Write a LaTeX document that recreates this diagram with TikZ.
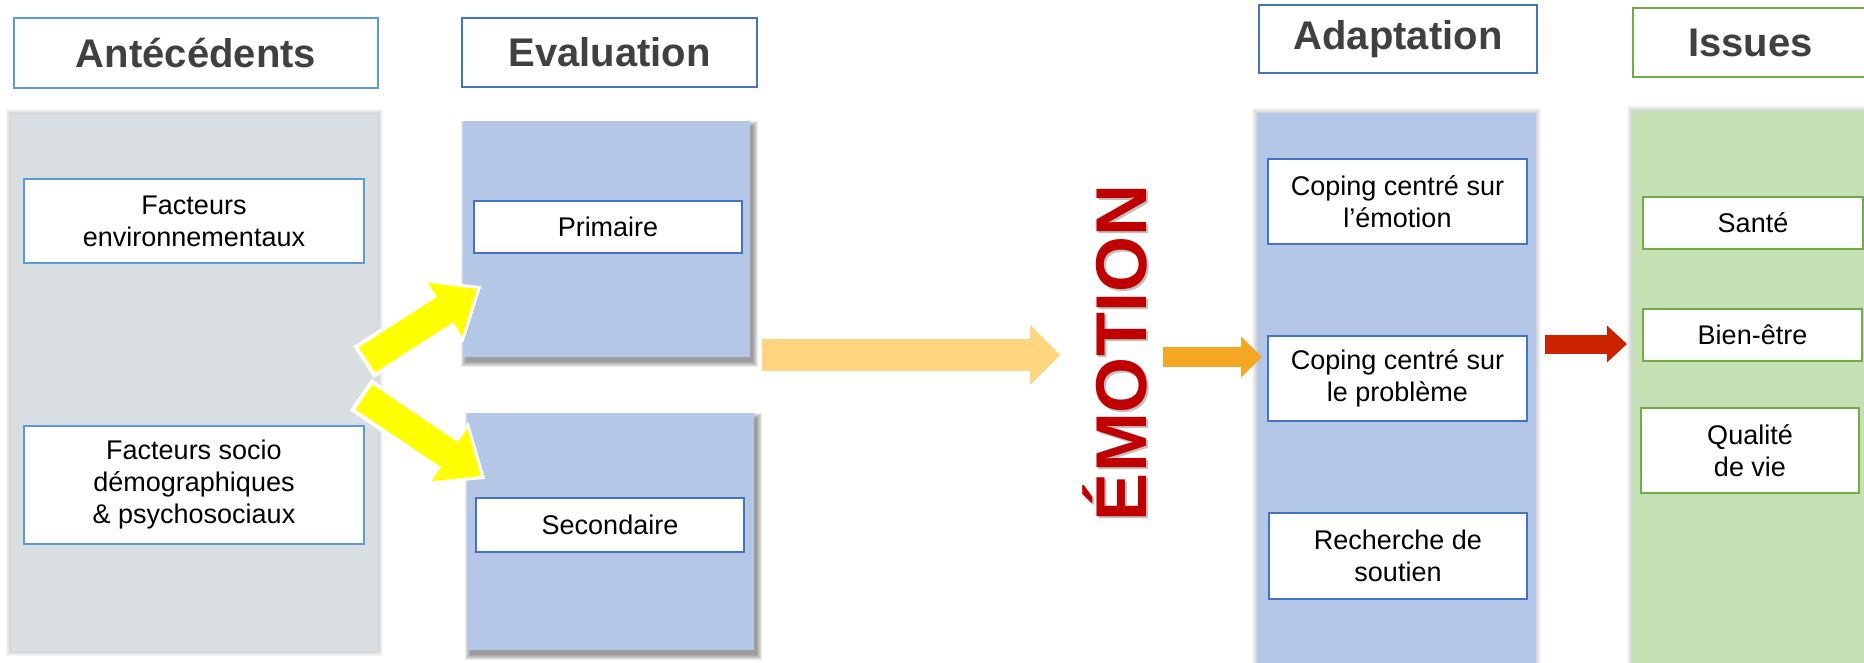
\documentclass[tikz,border=0pt]{standalone}
\usepackage{fontspec}
\setmainfont{Liberation Sans}
\usetikzlibrary{arrows.meta}
\definecolor{hdrtext}{HTML}{404040}
\definecolor{lblue}{HTML}{5B9BD5}
\definecolor{dblue}{HTML}{4472C4}
\definecolor{ogreen}{HTML}{70AD47}
\definecolor{graypanel}{HTML}{D9DEE3}
\definecolor{bluepanel}{HTML}{B4C7E7}
\definecolor{greenpanel}{HTML}{C5E0B4}
\definecolor{ylw}{HTML}{FFFF00}
\definecolor{lorange}{HTML}{FFD57F}
\definecolor{orng}{HTML}{F5A623}
\definecolor{redarr}{HTML}{CC2200}
\definecolor{emored}{HTML}{C00000}
\tikzset{
  hdr/.style={draw=#1, line width=2.5pt, fill=white, text=hdrtext,
    font=\fontsize{40}{48}\selectfont\bfseries, inner sep=0pt},
  box/.style={draw=#1, line width=2.5pt, fill=white, text=black,
    font=\fontsize{27}{32}\selectfont, align=center, inner sep=0pt},
  panel/.style={fill=#1, inner sep=0pt},
  blk/.style n args={4}{draw=#4, line width=#1,
    -{Triangle[width=#2, length=#3, line width=0pt]}},
}
\newcommand\glowshadow[7]{% x1 y1 x2 y2 dx dy opacity
  \foreach \k in {0,...,5}{
    \fill[black, opacity=#7] ({#1+#5-\k},{#2+#6-\k}) rectangle ({#3+#5+\k},{#4+#6+\k});
  }}
\begin{document}
\begin{tikzpicture}[x=1pt, y=-1pt]
\useasboundingbox (0,0) rectangle (1864,662);

% shadows
\glowshadow{11}{114}{378}{651}{0}{0}{0.035}
\glowshadow{463}{121}{750}{357}{3}{5}{0.08}
\glowshadow{467}{413}{754}{650}{3}{5}{0.08}
\glowshadow{1257}{113}{1536}{680}{0}{0}{0.035}
\glowshadow{1632}{111}{1880}{680}{0}{0}{0.035}

% panels
\node[panel=graypanel, minimum width=367pt, minimum height=537pt] (pA) at (194.5,382.5) {};
\node[panel=bluepanel, minimum width=287pt, minimum height=236pt] (pE1) at (606.5,239) {};
\node[panel=bluepanel, minimum width=287pt, minimum height=237pt] (pE2) at (610.5,531.5) {};
\node[panel=bluepanel, minimum width=279pt, minimum height=567pt] (pAd) at (1396.5,396.5) {};
\node[panel=greenpanel, minimum width=248pt, minimum height=569pt] (pI) at (1756,395.5) {};

% headers
\node[hdr=lblue, minimum width=364pt, minimum height=70pt] (hA) at (196,53) {Antécédents};
\node[hdr=dblue, minimum width=295pt, minimum height=69pt] (hE) at (609.5,52.5) {Evaluation};
\node[hdr=dblue, minimum width=278pt, minimum height=68pt] (hAd) at (1398,39) {Adaptation};
\node[hdr=ogreen, minimum width=235pt, minimum height=69pt] (hI) at (1750.5,42.5) {Issues};

% inner boxes
\node[box=lblue, minimum width=340pt, minimum height=84pt] (env) at (194,221) {Facteurs\\environnementaux};
\node[box=lblue, minimum width=340pt, minimum height=118pt] (socio) at (194,485) {Facteurs socio\\démographiques\\\& psychosociaux};
\node[box=dblue, minimum width=268pt, minimum height=52pt] (prim) at (608,227) {Primaire};
\node[box=dblue, minimum width=268pt, minimum height=54pt] (sec) at (610,525) {Secondaire};
\node[box=dblue, minimum width=259pt, minimum height=85pt] (cop1) at (1397.5,201.5) {Coping centré sur\\l’émotion};
\node[box=dblue, minimum width=259pt, minimum height=85pt] (cop2) at (1397.5,378.5) {Coping centré sur\\le problème};
\node[box=dblue, minimum width=258pt, minimum height=86pt] (rech) at (1398,556) {Recherche de\\soutien};
\node[box=ogreen, minimum width=220pt, minimum height=52pt] (sante) at (1753,223) {Santé};
\node[box=ogreen, minimum width=219pt, minimum height=52pt] (bien) at (1752.5,335) {Bien-être};
\node[box=ogreen, minimum width=218pt, minimum height=85pt] (qual) at (1750,450.5) {Qualité\\de vie};

% emotion
\node[rotate=90, anchor=base, text=black, opacity=0.25, font=\fontsize{72}{80}\selectfont\bfseries] (emoS) at (1148,355) {ÉMOTION};
\node[rotate=90, anchor=base, text=emored, font=\fontsize{72}{80}\selectfont\bfseries] (emo) at (1146,353) {ÉMOTION};

% arrow end points
\coordinate (y1s) at (367,360);
\coordinate (y1e) at (477,289);
\coordinate (y2s) at (364,397);
\coordinate (y2e) at (481,476);
\coordinate (o1s) at (762,355);
\coordinate (o1e) at (1060,355);
\coordinate (o2s) at (1163,357);
\coordinate (o2e) at (1262,357);
\coordinate (r1s) at (1545,344);
\coordinate (r1e) at (1627,344);

% yellow arrows with white outline
\draw[blk={38pt}{76pt}{46pt}{white}, shorten >=-5pt, shorten <=-4pt] (y1s) -- (y1e);
\draw[blk={30pt}{64pt}{38pt}{ylw}] (y1s) -- (y1e);
\draw[blk={38pt}{76pt}{46pt}{white}, shorten >=-5pt, shorten <=-4pt] (y2s) -- (y2e);
\draw[blk={30pt}{64pt}{38pt}{ylw}] (y2s) -- (y2e);

% horizontal arrows
\draw[blk={32pt}{60pt}{30pt}{lorange}] (o1s) -- (o1e);
\draw[blk={20pt}{41pt}{21pt}{orng}] (o2s) -- (o2e);
\draw[blk={19pt}{37pt}{20pt}{redarr}] (r1s) -- (r1e);
\end{tikzpicture}
\end{document}
